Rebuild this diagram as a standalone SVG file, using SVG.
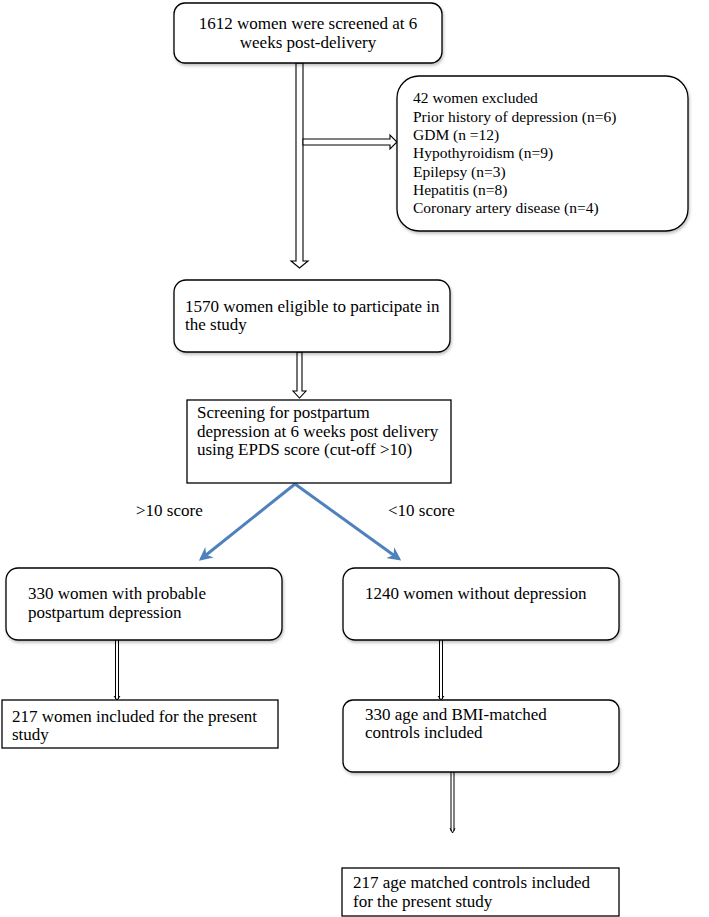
<svg xmlns="http://www.w3.org/2000/svg" width="709" height="917" viewBox="0 0 709 917">
<style>
.box{fill:#fff;stroke:#000;stroke-width:1.3}
.rbox{fill:#fff;stroke:#000;stroke-width:1.3;filter:url(#sh)}
.t{font-family:"Liberation Serif",serif;font-size:17px;fill:#000}
.tt{font-family:"Liberation Serif",serif;font-size:15.5px;fill:#000}
.ha{fill:#fff;stroke:#000;stroke-width:1.1}
.thin{fill:none;stroke:#000;stroke-width:1}
.blue{fill:none;stroke:#4F81BD;stroke-width:3;marker-end:url(#bh)}
</style>
<defs>
<filter id="sh" x="-5%" y="-5%" width="115%" height="120%">
<feDropShadow dx="1" dy="2" stdDeviation="1.5" flood-color="#000" flood-opacity="0.25"/>
</filter>
<marker id="bh" viewBox="0 0 10 10" refX="8" refY="5" markerWidth="4.5" markerHeight="4.5" orient="auto" markerUnits="strokeWidth">
<path d="M0,0 L10,5 L0,10 L3,5 Z" fill="#4F81BD"/>
</marker>
</defs>
<g id="connectors">
<path class="ha" d="M296,63 V261 H291 L299.5,268 L308,261 H303 V63 Z"/>
<path class="ha" d="M303,139 H390 V135 L397,142 L390,149 V145 H303 Z"/>
<path class="ha" d="M297,352 V391 H293 L299.5,398 L306,391 H302 V352 Z"/>
<path class="blue" d="M295,484 L201,559"/>
<path class="blue" d="M295,484 L399,559"/>
<path class="thin" d="M115.5,640 V699 M118.5,640 V699 M114,696 L117,700 L120,696"/>
<path class="thin" d="M439.5,640 V699 M442.5,640 V699 M438,696 L441,700 L444,696"/>
<path class="thin" d="M451,772 V831 M454,772 V831 M450,828 L452.5,833 L455,828"/>
</g>
<g id="n1"><rect class="rbox" x="174" y="3" width="268" height="60" rx="11"/>
<text class="t" x="308" y="29" text-anchor="middle">1612 women were screened at 6</text>
<text class="t" x="308" y="48" text-anchor="middle">weeks post-delivery</text></g>
<g id="n2"><rect class="rbox" x="397" y="76" width="291" height="155" rx="22"/>
<text class="tt" x="413" y="103">42 women excluded</text>
<text class="tt" x="413" y="122">Prior history of depression (n=6)</text>
<text class="tt" x="413" y="140">GDM (n =12)</text>
<text class="tt" x="413" y="158">Hypothyroidism (n=9)</text>
<text class="tt" x="413" y="177">Epilepsy (n=3)</text>
<text class="tt" x="413" y="195">Hepatitis (n=8)</text>
<text class="tt" x="413" y="213">Coronary artery disease (n=4)</text></g>
<g id="n3"><rect class="rbox" x="174" y="280" width="276" height="72" rx="12"/>
<text class="t" x="185" y="312">1570 women eligible to participate in</text>
<text class="t" x="185" y="330">the study</text></g>
<g id="n4"><rect class="box" x="187" y="400" width="264" height="83"/>
<text class="t" x="197" y="418">Screening for postpartum</text>
<text class="t" x="197" y="437">depression at 6 weeks post delivery</text>
<text class="t" x="197" y="455">using EPDS score (cut-off &gt;10)</text></g>
<g id="labels">
<text class="t" x="136" y="516">&gt;10 score</text>
<text class="t" x="388" y="516">&lt;10 score</text></g>
<g id="n5"><rect class="rbox" x="6" y="568" width="276" height="72" rx="12"/>
<text class="t" x="28" y="599">330 women with probable</text>
<text class="t" x="28" y="618">postpartum depression</text></g>
<g id="n6"><rect class="rbox" x="343" y="568" width="276" height="72" rx="12"/>
<text class="t" x="365" y="599">1240 women without depression</text></g>
<g id="n7"><rect class="box" x="2" y="700" width="276" height="48"/>
<text class="t" x="12" y="722">217 women included for the present</text>
<text class="t" x="12" y="740">study</text></g>
<g id="n8"><rect class="rbox" x="343" y="700" width="276" height="72" rx="10"/>
<text class="t" x="365" y="720">330 age and BMI-matched</text>
<text class="t" x="365" y="738">controls included</text></g>
<g id="n9"><rect class="box" x="342" y="868" width="277" height="48"/>
<text class="t" x="353" y="888">217 age matched controls included</text>
<text class="t" x="353" y="907">for the present study</text></g>
</svg>
